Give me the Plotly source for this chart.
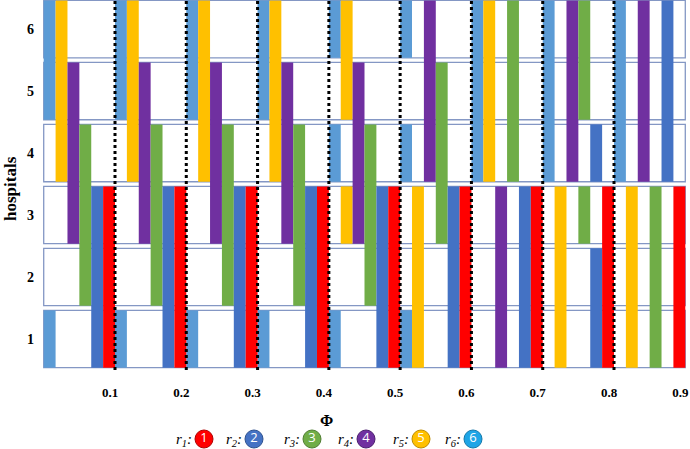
import plotly.graph_objects as go

# ---------------- data ----------------
phi = [0.1, 0.2, 0.3, 0.4, 0.5, 0.6, 0.7, 0.8, 0.9]
phi_labels = ["0.1", "0.2", "0.3", "0.4", "0.5", "0.6", "0.7", "0.8", "0.9"]
hospitals = [1, 2, 3, 4, 5, 6]

# hospitals served by each resource, per value of phi
r1_hosp = [[1, 2, 3], [1, 2, 3], [1, 2, 3], [1, 2, 3], [1, 2, 3], [1, 2, 3], [1, 2, 3], [1, 2, 3], [1, 2, 3]]
r2_hosp = [[1, 2, 3], [1, 2, 3], [1, 2, 3], [1, 2, 3], [1, 2, 3], [1, 2, 3], [1, 2, 3], [1, 2, 4], [4, 5, 6]]
r3_hosp = [[2, 3, 4], [2, 3, 4], [2, 3, 4], [2, 3, 4], [2, 3, 4], [3, 4, 5], [4, 5, 6], [3, 5, 6], [1, 2, 3]]
r4_hosp = [[3, 4, 5], [3, 4, 5], [3, 4, 5], [3, 4, 5], [3, 4, 5], [4, 5, 6], [1, 2, 3], [4, 5, 6], [4, 5, 6]]
r5_hosp = [[4, 5, 6], [4, 5, 6], [4, 5, 6], [4, 5, 6], [3, 5, 6], [1, 2, 3], [4, 5, 6], [1, 2, 3], [1, 2, 3]]
r6_hosp = [[1, 5, 6], [1, 5, 6], [1, 5, 6], [1, 5, 6], [1, 4, 6], [1, 4, 6], [4, 5, 6], [4, 5, 6], [4, 5, 6]]

resource_names = ["r6", "r5", "r4", "r3", "r2", "r1"]          # left-to-right slot order
resource_hosp = [r6_hosp, r5_hosp, r4_hosp, r3_hosp, r2_hosp, r1_hosp]
legend_order = ["r1", "r2", "r3", "r4", "r5", "r6"]
legend_numbers = ["1", "2", "3", "4", "5", "6"]

# ---------------- styles ----------------
bar_colors = {"r1": "#FF0000", "r2": "#4472C4", "r3": "#70AD47",
              "r4": "#7030A0", "r5": "#FFC000", "r6": "#5B9BD5"}
legend_colors = {"r1": "#FF0000", "r2": "#4472C4", "r3": "#70AD47",
                 "r4": "#7030A0", "r5": "#FFC000", "r6": "#1EA5E6"}
legend_edges = {"r1": "#B00000", "r2": "#2F528F", "r3": "#507E32",
                "r4": "#4B1F6E", "r5": "#BC8C00", "r6": "#1478AA"}

GROUP = 0.1
SLOT = GROUP / 6
BAND = 0.925
SERIF = "Liberation Serif"

W, H = 690, 449
PL, PR, PT, PB = 43, 686, 0, 370      # plot area in pixels


def runs(hs):
    hs = sorted(hs)
    out = []
    start = prev = hs[0]
    for h in hs[1:]:
        if h == prev + 1:
            prev = h
        else:
            out.append((start, prev))
            start = prev = h
    out.append((start, prev))
    return out


fig = go.Figure()

# hospital row bands
fig.add_trace(go.Bar(
    orientation="h", y=hospitals, x=[max(phi)] * len(hospitals), base=0,
    width=BAND, marker=dict(color="white", line=dict(color="#8497C4", width=1.3)),
    hoverinfo="skip", showlegend=False))

# resource bars
for k, (name, hosp) in enumerate(zip(resource_names, resource_hosp)):
    xs, bases, heights = [], [], []
    for p, hs in zip(phi, hosp):
        for lo, hi in runs(hs):
            xs.append(p)
            bases.append(lo - BAND / 2)
            heights.append(hi - lo + BAND)
    fig.add_trace(go.Bar(
        x=xs, y=heights, base=bases, offset=-GROUP + k * SLOT, width=SLOT,
        marker=dict(color=bar_colors[name], line=dict(width=0)),
        name=name, showlegend=False))

# dotted separators
lx, ly = [], []
for p in phi[:-1]:
    lx += [p, p, None]
    ly += [0.5, 6.5, None]
fig.add_trace(go.Scatter(x=lx, y=ly, mode="lines",
                         line=dict(color="black", width=3, dash="dot"),
                         hoverinfo="skip", showlegend=False))

# legend (drawn on an invisible pixel-coordinate overlay axis)
legend_circle_px = [204, 254, 312, 366, 421, 473]
LEG_Y = 439
fig.add_trace(go.Scatter(
    x=legend_circle_px, y=[LEG_Y] * len(legend_circle_px), xaxis="x2", yaxis="y2",
    mode="markers+text", text=legend_numbers, textposition="middle center",
    textfont=dict(family="Open Sans", size=13, color="white"),
    marker=dict(size=18, color=[legend_colors[n] for n in legend_order],
                line=dict(color=[legend_edges[n] for n in legend_order], width=1)),
    hoverinfo="skip", showlegend=False, cliponaxis=False))

fig.update_layout(
    width=W, height=H, margin=dict(l=0, r=0, t=0, b=0, autoexpand=False),
    paper_bgcolor="white", plot_bgcolor="rgba(0,0,0,0)",
    barmode="overlay", showlegend=False,
    xaxis=dict(domain=[PL / W, PR / W], range=[-0.001, 0.901], tickvals=phi, ticktext=phi_labels,
               showgrid=False, zeroline=False, showline=False, ticks="", automargin=False,
               ticklabelstandoff=13, ticklabelshift=-5, ticklabeloverflow="allow",
               tickfont=dict(family=SERIF, size=13, color="black", weight="bold")),
    yaxis=dict(domain=[1 - PB / H, 1 - PT / H], range=[0.5, 6.47], tickvals=hospitals,
               ticktext=[str(h) for h in hospitals], automargin=False,
               showgrid=False, zeroline=False, showline=False, ticks="",
               ticklabelstandoff=8,
               tickfont=dict(family=SERIF, size=14, color="black", weight="bold")),
    xaxis2=dict(domain=[0, 1], range=[0, W], visible=False, anchor="y2", fixedrange=True),
    yaxis2=dict(domain=[0, 1], range=[H, 0], visible=False, anchor="x2", fixedrange=True),
)

annotations = [
    dict(text="<b>hospitals</b>", x=10, y=189, xref="x2", yref="y2",
         textangle=-90, showarrow=False, font=dict(family=SERIF, size=17, color="black")),
    dict(text="<b>Φ</b>", x=326, y=420, xref="x2", yref="y2",
         showarrow=False, font=dict(family=SERIF, size=16, color="black")),
]
for name, cx in zip(legend_order, legend_circle_px):
    annotations.append(dict(text="<i>r<sub>" + name[1:] + "</sub>:</i>", x=cx - 10,
                            y=LEG_Y + 1, xref="x2", yref="y2", xanchor="right", yanchor="middle",
                            showarrow=False, font=dict(family=SERIF, size=15, color="black")))

fig.update_layout(annotations=annotations)
fig.write_html("out.html")
